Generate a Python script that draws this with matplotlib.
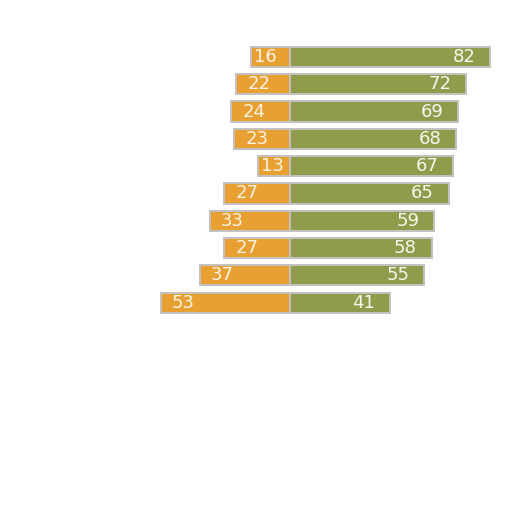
import matplotlib
matplotlib.use('Agg')
import matplotlib.pyplot as plt

# values, top row first
left_vals = [16, 22, 24, 23, 13, 27, 33, 27, 37, 53]
right_vals = [82, 72, 69, 68, 67, 65, 59, 58, 55, 41]

orange = '#E9A033'
green = '#909C4B'
edge = '#c2c2c2'

fig = plt.figure(figsize=(5.12, 5.12), dpi=100)
ax = fig.add_axes([0, 0, 1, 1])

rows = list(range(len(left_vals)))
ax.barh(rows, [-v for v in left_vals], height=0.74, color=orange,
        edgecolor=edge, linewidth=1.4)
ax.barh(rows, right_vals, height=0.74, color=green,
        edgecolor=edge, linewidth=1.4)

for i in rows:
    # short orange bars get less padding
    pad = 4.6 if left_vals[i] > 20 else 1.2
    ax.text(-left_vals[i] + pad, i, str(left_vals[i]), color='#fcf3e2',
            fontsize=13, va='center', ha='left')
    ax.text(right_vals[i] - 6, i, str(right_vals[i]), color='#f6f6ee',
            fontsize=13, va='center', ha='right')

# center sits at x~290 px, ~2.44 px per unit, rows ~27.3 px apart
ax.set_xlim(-118.9, 91.0)
ax.set_ylim(16.67, -2.088)
ax.axis('off')

fig.savefig('out.png', dpi=100)
